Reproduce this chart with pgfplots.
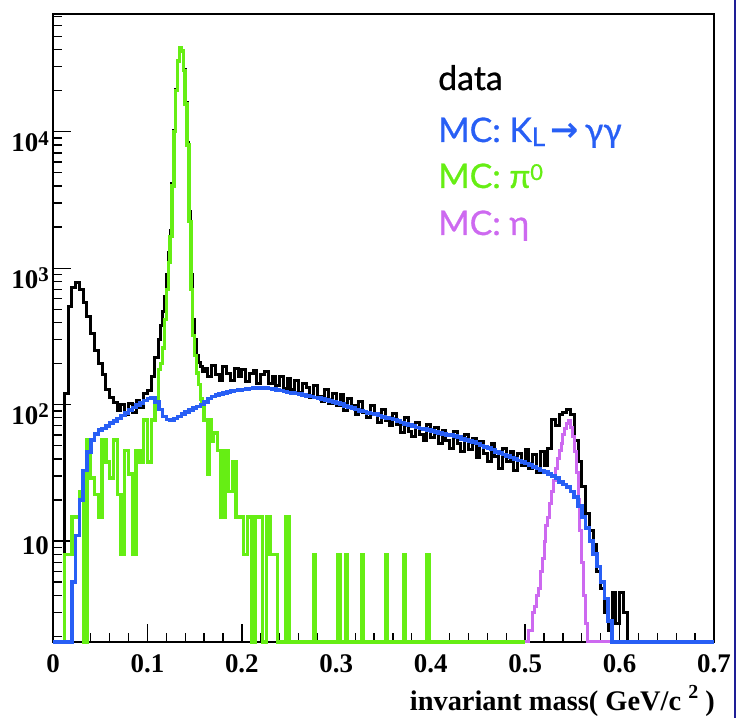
\documentclass[border=0pt]{standalone}
\usepackage{fontspec}
\setmainfont{Liberation Serif}
\newfontfamily\gill{Lato}[FakeBold=0.8]
\newfontfamily\dejavu{DejaVu Sans}
\usepackage{pgfplots}
\pgfplotsset{compat=1.18}

\definecolor{mcblue}{RGB}{40,95,245}
\definecolor{mcgreen}{RGB}{102,238,20}
\definecolor{mcviolet}{RGB}{205,105,240}
\definecolor{slideblue}{RGB}{30,30,150}

% ROOT style tick labels: bold Times-like, exponent raised
\newcommand{\pw}[1]{\raisebox{-7bp}{\textbf{10\raisebox{0.25em}{\fontsize{21}{21}\selectfont #1}}}}

\begin{document}
\begin{tikzpicture}
\useasboundingbox (-53bp,-76bp) rectangle (684bp,642bp);
\begin{axis}[
  at={(0,0)}, anchor=south west,
  scale only axis, width=661bp, height=628bp,
  ymode=log, xmin=0, xmax=0.7, ymin=1.82, ymax=73000,
  clip=false,
  tick align=inside, xtick pos=bottom, ytick pos=left,
  axis line style={line width=1.2bp},
  tick style={black, line width=1.3bp},
  major tick length=18bp, minor tick length=9bp,
  xtick={0,0.1,0.2,0.3,0.4,0.5,0.6,0.7},
  xticklabels={\textbf{0},\textbf{0.1},\textbf{0.2},\textbf{0.3},\textbf{0.4},\textbf{0.5},\textbf{0.6},\textbf{0.7}},
  minor x tick num=4,
  ytick={10,100,1000,10000},
  yticklabels={\textbf{10},\pw{2},\pw{3},\pw{4}},
  minor ytick={2,3,4,5,6,7,8,9,20,30,40,50,60,70,80,90,200,300,400,500,600,700,800,900,2000,3000,4000,5000,6000,7000,8000,9000,20000,30000,40000,50000,60000,70000},
  xticklabel style={font=\fontsize{27}{27}\selectfont, anchor=base, inner sep=0pt, yshift=-30bp},
  yticklabel style={font=\fontsize{27}{27}\selectfont, anchor=base east, inner sep=0pt, xshift=-4bp, yshift=-13bp},
]
% data
\addplot[const plot, black, line width=3bp] coordinates {
(0,1.82)(0.004,1.82)(0.008,1.82)(0.012,120)(0.016,520)(0.020,720)(0.024,780)(0.028,700)
(0.032,560)(0.036,440)(0.040,330)(0.044,250)(0.048,200)(0.052,165)(0.056,130)(0.060,112)
(0.064,104)(0.068,90)(0.072,100)(0.076,84)(0.080,102)(0.084,88)(0.088,108)(0.092,96)
(0.096,120)(0.100,126)(0.104,160)(0.108,220)
(0.112,300)(0.114,380)(0.116,480)(0.118,620)(0.120,900)(0.122,1300)(0.124,1900)(0.126,4200)
(0.128,10200)(0.130,20500)(0.132,33000)(0.134,41500)(0.136,39500)(0.138,28500)(0.140,16500)
(0.142,8300)(0.144,2600)(0.146,900)(0.148,420)(0.150,300)(0.152,230)(0.154,205)(0.156,190)(0.158,175)
(0.160,185)(0.164,160)(0.168,195)(0.172,165)(0.176,150)(0.180,190)(0.184,170)(0.188,150)
(0.192,185)(0.196,162)(0.200,180)(0.204,148)(0.208,170)(0.212,178)(0.216,142)(0.220,165)
(0.224,175)(0.228,142)(0.232,160)(0.236,138)(0.240,162)(0.244,132)(0.248,155)(0.252,130)
(0.256,150)(0.260,122)(0.264,142)(0.268,134)(0.272,112)(0.276,138)(0.280,115)(0.284,106)
(0.288,128)(0.292,102)(0.296,120)(0.300,98)(0.304,118)(0.308,90)(0.312,110)(0.316,98)
(0.320,84)(0.324,106)(0.328,88)(0.332,80)(0.336,98)(0.340,84)(0.344,74)(0.348,92)
(0.352,76)(0.356,70)(0.360,86)(0.364,72)(0.368,62)(0.372,80)(0.376,64)(0.380,58)
(0.384,74)(0.388,60)(0.392,55)(0.396,72)(0.400,57)(0.404,68)(0.408,52)(0.412,65)
(0.416,55)(0.420,48)(0.424,64)(0.428,52)(0.432,45)(0.436,60)(0.440,47)(0.444,56)
(0.448,41)(0.452,54)(0.456,44)(0.460,38)(0.464,52)(0.468,42)(0.472,34)(0.476,48)
(0.480,38)(0.484,45)(0.488,33)(0.492,44)(0.496,36)(0.500,47)(0.504,34)(0.508,43)
(0.512,32)(0.516,45)(0.520,36)(0.524,48)(0.528,78)(0.532,70)(0.536,84)(0.540,88)
(0.544,92)(0.548,84)(0.552,55)(0.556,38)(0.560,25)(0.564,16)(0.568,12)(0.572,9.5)
(0.576,6)(0.580,4.5)(0.584,3)(0.588,2.2)(0.592,4.2)(0.596,2.5)(0.600,4.2)(0.604,3)
(0.608,1.82)(0.700,1.82)};
% MC pi0
\addplot[const plot, mcgreen, line width=3.4bp] coordinates {
(0,1.82)(0.012,8)(0.016,8)(0.020,15)(0.024,15)(0.028,23)(0.032,1.82)(0.036,55)(0.040,29)
(0.044,22)(0.048,15)(0.052,55)(0.056,38)(0.060,29)(0.064,55)(0.068,22)(0.072,8)(0.076,46)
(0.080,31)(0.084,8)(0.088,46)(0.092,38)(0.096,77)(0.100,38)(0.104,77)(0.108,100)
(0.112,180)(0.114,200)(0.116,260)(0.118,420)(0.120,700)(0.122,1100)(0.124,1700)(0.126,4000)
(0.128,10000)(0.130,20000)(0.132,33000)(0.134,41000)(0.136,39000)(0.138,28000)(0.140,16000)
(0.142,8000)(0.144,2200)(0.146,700)(0.148,320)(0.150,230)(0.152,170)(0.154,140)(0.156,110)(0.158,100)
(0.160,77)(0.164,31)(0.166,77)(0.168,54)(0.170,62)(0.174,46)(0.178,15)(0.182,46)(0.186,23)
(0.190,38)(0.194,15)(0.198,15)(0.202,8)(0.206,15)(0.210,1.82)(0.214,15)(0.218,15)(0.222,1.82)
(0.226,15)(0.230,8)(0.234,8)(0.238,1.82)(0.246,15)(0.250,1.82)(0.276,8)(0.278,1.82)
(0.302,8)(0.304,1.82)(0.310,8)(0.312,1.82)(0.327,8)(0.329,1.82)(0.352,8)(0.354,1.82)
(0.371,8)(0.373,1.82)(0.396,8)(0.398,1.82)(0.500,1.82)};
% MC eta
\addplot[const plot, mcviolet, line width=3bp] coordinates {
(0.500,1.82)(0.504,2.2)(0.508,3)(0.510,3.3)(0.512,4)(0.514,4.5)(0.516,6)(0.518,7.5)(0.520,10)
(0.522,13)(0.524,15)(0.526,19)(0.528,23)(0.530,28)(0.532,34)(0.534,40)(0.536,46)(0.538,52)
(0.540,60)(0.542,67)(0.544,73)(0.546,76)(0.548,68)(0.550,58)(0.552,45)(0.554,32)(0.556,20)
(0.558,12)(0.560,7)(0.562,4)(0.564,2.5)(0.566,1.82)(0.600,1.82)};
% MC KL -> gamma gamma
\addplot[const plot, mcblue, line width=3.6bp] coordinates {
(0,1.82)(0.020,5)(0.024,11)(0.028,20)(0.032,33)(0.036,45)(0.040,55)(0.044,61)(0.048,65)
(0.052,67)(0.056,70)(0.060,73)(0.064,76)(0.068,79)(0.072,83)(0.076,87)(0.080,91)(0.084,95)
(0.088,99)(0.092,103)(0.096,107)(0.100,111)(0.104,113)(0.108,105)(0.112,92)(0.116,82)
(0.120,78)(0.124,77)(0.128,79)(0.132,82)(0.136,85)(0.140,88)(0.144,91)(0.148,94)(0.152,97)
(0.156,100)(0.160,105)(0.164,111)(0.168,115)(0.172,118)(0.176,120)(0.180,122)(0.184,124)
(0.188,126)(0.192,127)(0.196,128)(0.200,129)(0.204,130)(0.208,131)(0.212,132)(0.216,133)
(0.220,133)(0.224,132)(0.228,131)(0.232,130)(0.236,128)(0.240,127)(0.244,125)(0.248,123)
(0.252,122)(0.256,121)(0.260,120)(0.264,118)(0.268,116)(0.272,115)(0.276,113)(0.280,112)
(0.284,110)(0.288,108)(0.292,106)(0.296,104)(0.300,103)(0.304,101)(0.308,98)(0.312,96)
(0.316,94)(0.320,92)(0.324,90)(0.328,89)(0.332,87)(0.336,86)(0.340,85)(0.344,83)(0.348,81)
(0.352,80)(0.356,79)(0.360,78)(0.364,76)(0.368,74)(0.372,72)(0.376,71)(0.380,70)(0.384,68)
(0.388,67)(0.392,66)(0.396,65)(0.400,64)(0.404,63)(0.408,62)(0.412,61)(0.416,60)(0.420,60)
(0.424,59)(0.428,58)(0.432,56)(0.436,55)(0.440,54)(0.444,53)(0.448,52)(0.452,50)(0.456,49)
(0.460,48)(0.464,47)(0.468,45)(0.472,44)(0.476,43)(0.480,42)(0.484,41)(0.488,40)(0.492,39)
(0.496,38)(0.500,37)(0.504,36)(0.508,35)(0.512,34)(0.516,33)(0.520,32)(0.524,31)(0.528,30)
(0.532,29)(0.536,27)(0.540,26)(0.544,25)(0.548,23)(0.552,21)(0.556,18)(0.560,15)(0.564,12.5)
(0.568,10)(0.572,8)(0.576,6.5)(0.580,5)(0.584,3.8)(0.588,2.6)(0.592,1.82)(0.700,1.82)};
\end{axis}
% legend text
\begin{scope}[every node/.style={anchor=base west, inner sep=0pt, font=\gill\fontsize{34}{34}\selectfont}]
\node[text=black] at (385bp,552bp) {data};
\node[text=mcblue] at (385bp,500bp) {MC: K\raisebox{-0.12em}{\fontsize{26}{26}\selectfont L}{\dejavu\bfseries\,→\,}γγ};
\node[text=mcgreen] at (385bp,454bp) {MC: π\raisebox{8bp}{\fontsize{22}{22}\selectfont 0}};
\node[text=mcviolet] at (385bp,407bp) {MC: η};
\end{scope}
\node[anchor=base east, inner sep=0pt, font=\bfseries\fontsize{28.5}{28.5}\selectfont] at (662bp,-68bp)
  {invariant mass( GeV/c \raisebox{0.4em}{\fontsize{20}{20}\selectfont 2} )};
\draw[slideblue, line width=1.5bp] (682bp,-76bp) -- (682bp,642bp);
\end{tikzpicture}
\end{document}
